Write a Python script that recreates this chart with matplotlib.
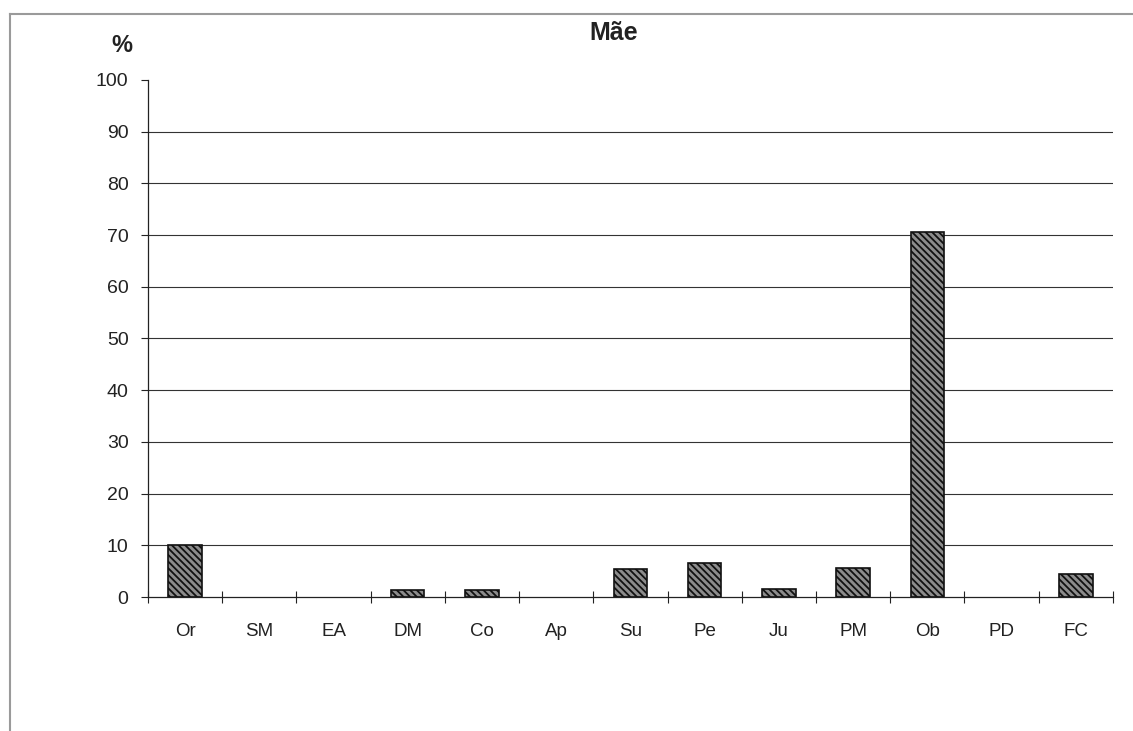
import matplotlib
matplotlib.use("Agg")
import matplotlib.pyplot as plt
from matplotlib.lines import Line2D
import numpy as np

# Percentages by category
categories = ["Or", "SM", "EA", "DM", "Co", "Ap", "Su", "Pe", "Ju", "PM", "Ob", "PD", "FC"]
values = [10.0, 0.0, 0.0, 1.3, 1.3, 0.0, 5.4, 6.6, 1.5, 5.7, 70.5, 0.0, 4.4]
y_ticks = [0, 10, 20, 30, 40, 50, 60, 70, 80, 90, 100]

plt.rcParams["font.family"] = ["Liberation Sans", "DejaVu Sans"]
plt.rcParams["hatch.linewidth"] = 1.3
plt.rcParams["hatch.color"] = "#111111"

fig = plt.figure(figsize=(11.33, 7.31), dpi=100)
ax = fig.add_axes([0.1306, 0.1833, 0.8517, 0.7073])

x = np.arange(len(categories))
edge = ["#111111" if v > 0 else "none" for v in values]
ax.bar(x, values, width=0.45, facecolor="#8c8c8c", edgecolor=edge,
       linewidth=1.2, hatch="\\\\\\\\\\", zorder=3)

ax.set_xlim(-0.5, len(categories) - 0.5)
ax.set_ylim(0, 100)

# horizontal gridlines (none at the top)
for v in y_ticks[1:-1]:
    ax.axhline(v, color="#333333", linewidth=0.8, zorder=1)

ax.set_yticks(y_ticks)
ax.tick_params(axis="y", direction="out", length=5, width=0.8, pad=9,
               labelsize=14, colors="#222222")

ax.set_xticks(x)
ax.set_xticklabels(categories)
ax.tick_params(axis="x", which="major", length=0, pad=19, labelsize=13.5,
               colors="#222222")
ax.set_xticks(np.arange(-0.5, len(categories)), minor=True)
ax.tick_params(axis="x", which="minor", direction="inout", length=9, width=0.8,
               color="#222222")

for side in ("top", "right"):
    ax.spines[side].set_visible(False)
for side in ("left", "bottom"):
    ax.spines[side].set_color("#222222")
    ax.spines[side].set_linewidth(0.9)
ax.spines["bottom"].set_zorder(4)

fig.text(0.5415, 0.955, "Mãe", ha="center", va="center", fontsize=18,
         fontweight="bold", color="#222222")
fig.text(0.108, 0.938, "%", ha="center", va="center", fontsize=17,
         fontweight="bold", color="#222222")

# outer frame (top and left edges)
fig.add_artist(Line2D([10 / 1133, 1.0], [1 - 14 / 731, 1 - 14 / 731],
                      transform=fig.transFigure, color="#9a9a9a", linewidth=1.5))
fig.add_artist(Line2D([10 / 1133, 10 / 1133], [0.0, 1 - 14 / 731],
                      transform=fig.transFigure, color="#9a9a9a", linewidth=1.5))

fig.savefig("out.png", dpi=100)
